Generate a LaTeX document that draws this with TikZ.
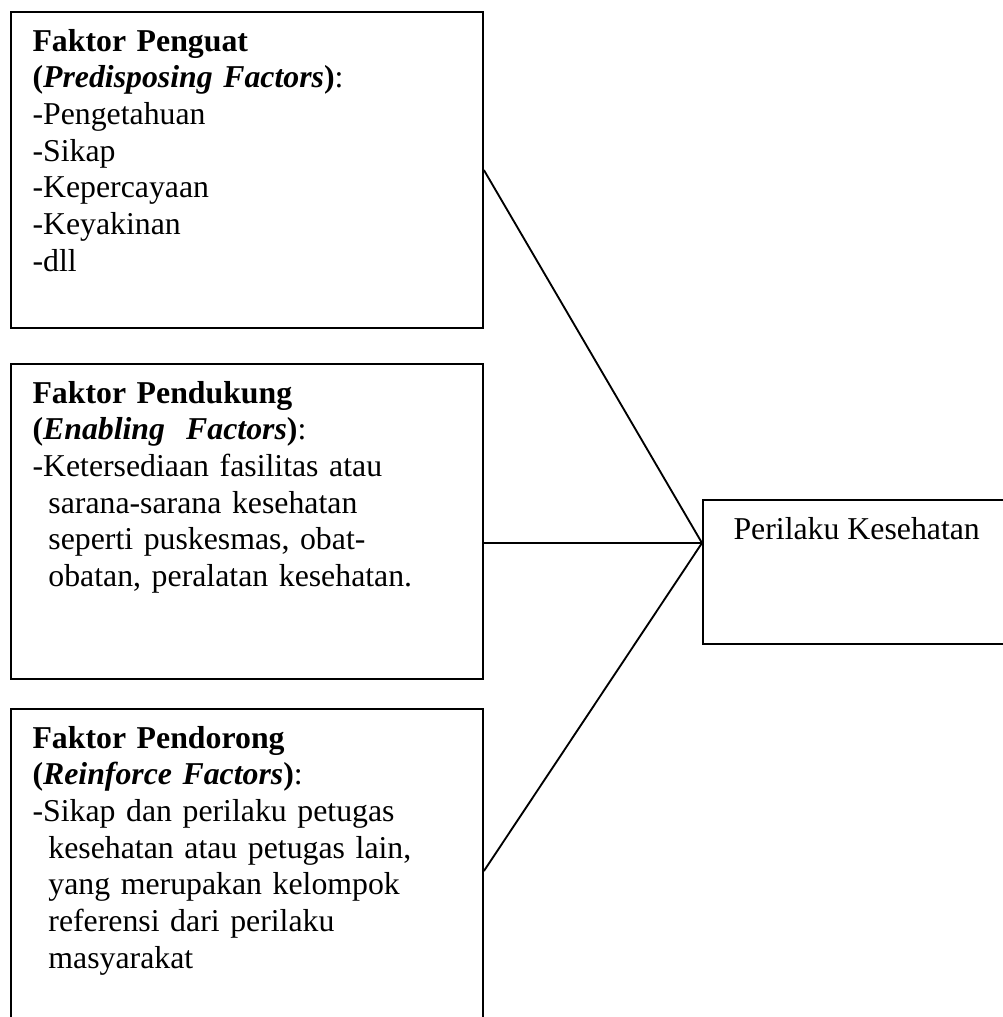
\documentclass[tikz,border=0pt]{standalone}
\usepackage{fontspec}
\setmainfont{Liberation Serif}
\begin{document}
\begin{tikzpicture}[x=0.3774pt,y=-0.3774pt,
    kotak/.style={draw,line width=0.75pt,minimum width=178.1pt,anchor=north west,inner sep=0pt},
    isi/.style={anchor=base west,inner sep=0pt,text width=175pt,align=left,font=\fontsize{12pt}{13.85pt}\selectfont},
    garis/.style={line width=0.7pt}]
    \path[use as bounding box,fill=white] (0,0) rectangle (1003,1017);
    \clip (0,0) rectangle (1003,1017);
    % kotak faktor
    \node[kotak,minimum height=119.3pt] (penguat) at (10,11) {};
    \node[kotak,minimum height=118.9pt] (pendukung) at (10,363) {};
    \node[kotak,minimum height=122.3pt] (pendorong) at (10,708) {};
    \node[kotak,minimum width=116.2pt,minimum height=54.3pt] (perilaku) at (702,499) {};
    % isi kotak
    \node[isi] (tpenguat) at ([shift={(22,40)}]penguat.north west)
        {\textbf{Faktor Penguat}\\
         \textbf{(\textit{Predisposing Factors})}:\\
         -Pengetahuan\\
         -Sikap\\
         -Kepercayaan\\
         -Keyakinan\\
         -dll};
    \node[isi] (tpendukung) at ([shift={(22,40)}]pendukung.north west)
        {\textbf{Faktor Pendukung}\\
         \textbf{(\textit{Enabling\ \ Factors})}:\\
         -Ketersediaan fasilitas atau\\
         \hspace*{6pt}sarana-sarana kesehatan\\
         \hspace*{6pt}seperti puskesmas, obat-\\
         \hspace*{6pt}obatan, peralatan kesehatan.};
    \node[isi] (tpendorong) at ([shift={(22,40)}]pendorong.north west)
        {\textbf{Faktor Pendorong}\\
         \textbf{(\textit{Reinforce Factors})}:\\
         -Sikap dan perilaku petugas\\
         \hspace*{6pt}kesehatan atau petugas lain,\\
         \hspace*{6pt}yang merupakan kelompok\\
         \hspace*{6pt}referensi dari perilaku\\
         \hspace*{6pt}masyarakat};
    \node[isi,text width=] (tperilaku) at ([shift={(31,40)}]perilaku.north west) {Perilaku Kesehatan};
    % garis penghubung
    \coordinate (temu) at ([shift={(0,44)}]perilaku.north west);
    \draw[garis] (penguat.east) -- (temu);
    \draw[garis] (pendukung.east |- temu) -- (temu);
    \draw[garis] (pendorong.east) -- (temu);
\end{tikzpicture}
\end{document}
